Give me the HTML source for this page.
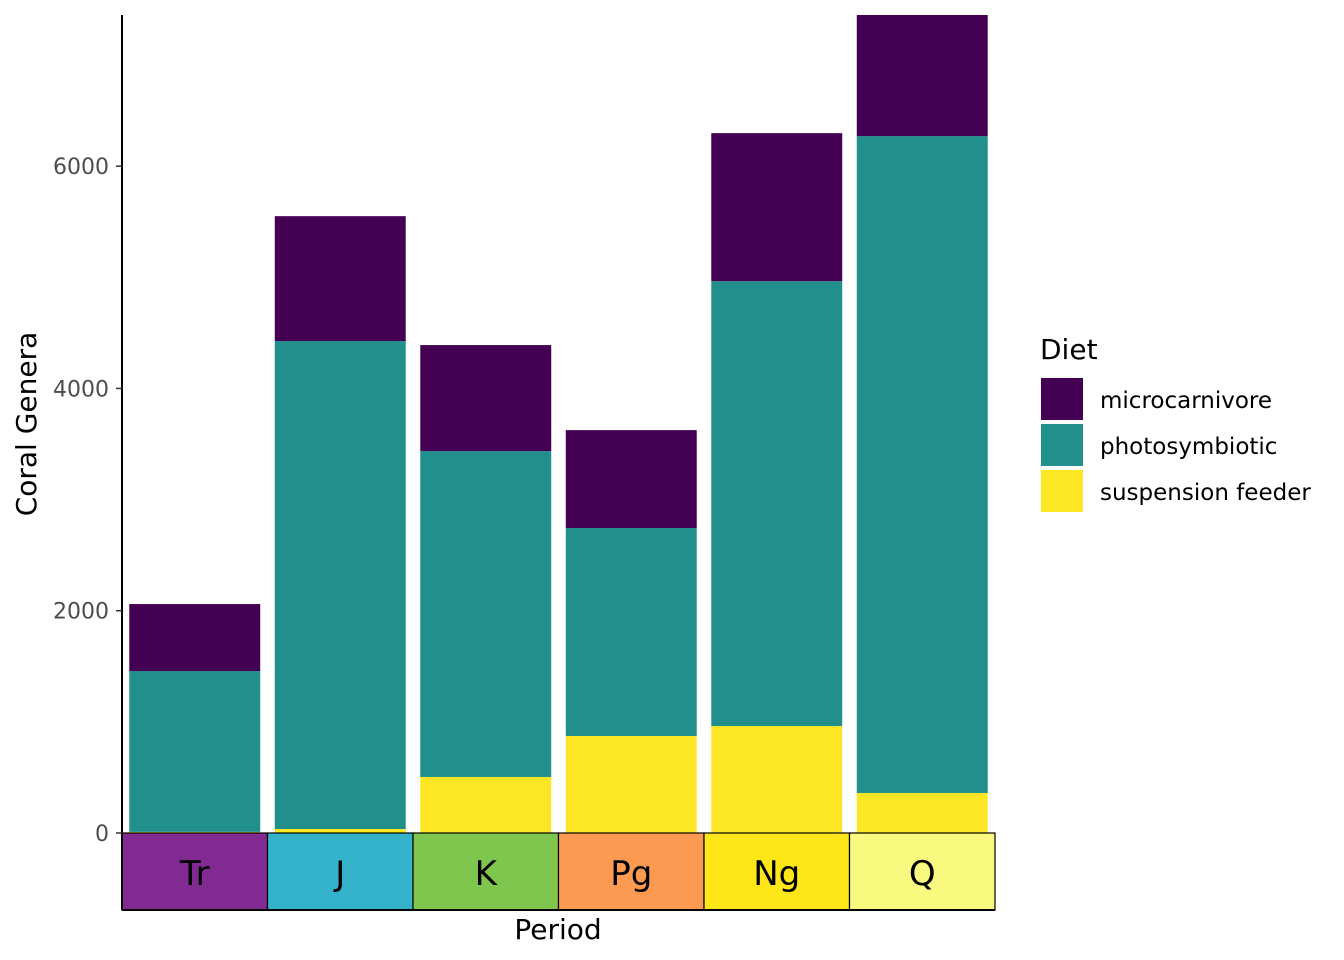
<!DOCTYPE html>
<html><head><meta charset="utf-8"><style>
body{margin:0;background:#fff}
svg{display:block;font-family:"DejaVu Sans","Liberation Sans",sans-serif}
</style></head><body>
<svg id="chart" width="1344" height="960">
<g id="bars"></g>
<g id="axes"></g>
<g id="legend"></g>
</svg>
<script>
const periods = ["Tr","J","K","Pg","Ng","Q"];
const periodColors = ["#812B92","#34B2C9","#7FC64E","#FD9A52","#FFE619","#F9F97F"];
const suspension = [10,36,504,873,962,360];
const photosymbiotic = [1447,4390,2932,1871,4003,5910];
const microcarnivore = [603,1124,954,881,1332,1090];
const yTicks = [0,2000,4000,6000];
const dietNames = ["microcarnivore","photosymbiotic","suspension feeder"];
const dietColors = ["#440154","#21908C","#FDE725"];

const NS="http://www.w3.org/2000/svg";
const x0=122,x1=995,yBase=833,yTop=15,yMax=7360;
const band=(x1-x0)/periods.length;
const y=v=>yBase-(v/yMax)*(yBase-yTop);
function mk(parent,tag,attrs,text){const e=document.createElementNS(NS,tag);for(const k in attrs)e.setAttribute(k,attrs[k]);if(text!==undefined)e.textContent=text;parent.appendChild(e);return e;}
const gb=document.getElementById('bars'),ga=document.getElementById('axes'),gl=document.getElementById('legend');
periods.forEach((p,i)=>{
  const bx=x0+i*band+band*0.05,bw=band*0.9;
  const segs=[[0,suspension[i],2,'suspension'],[suspension[i],suspension[i]+photosymbiotic[i],1,'photosymbiotic'],[suspension[i]+photosymbiotic[i],suspension[i]+photosymbiotic[i]+microcarnivore[i],0,'microcarnivore']];
  segs.forEach(s=>{
    const r=mk(gb,'rect',{x:bx,y:y(s[1]),width:bw,height:y(s[0])-y(s[1]),fill:dietColors[s[2]]});
    
    
  });
  const pb=mk(ga,'rect',{x:x0+i*band,y:yBase,width:band,height:77,fill:periodColors[i],stroke:'#000','stroke-width':1.2});
  
  
  const pt=mk(ga,'text',{x:x0+i*band+band/2,y:yBase+52,'text-anchor':'middle','font-size':34,fill:'#000'},p);
  
  
});
const yl=mk(ga,'line',{x1:x0,y1:yTop,x2:x0,y2:910,stroke:'#000','stroke-width':2});


const xl=mk(ga,'line',{x1:x0,y1:910,x2:x1,y2:910,stroke:'#000','stroke-width':2});


yTicks.forEach(t=>{
  mk(ga,'line',{x1:116,y1:y(t),x2:x0,y2:y(t),stroke:'#333','stroke-width':1.5});
  const tl=mk(ga,'text',{x:109,y:y(t)+8,'text-anchor':'end','font-size':22,fill:'#4d4d4d'},t);
  
  
});
const yt=mk(ga,'text',{x:0,y:0,transform:'translate(36,424) rotate(-90)','text-anchor':'middle','font-size':28,fill:'#000'},'Coral Genera');


const xt=mk(ga,'text',{x:558,y:939,'text-anchor':'middle','font-size':28,fill:'#000'},'Period');


const lt=mk(gl,'text',{x:1040,y:359,'font-size':28,fill:'#000'},'Diet');


dietNames.forEach((d,i)=>{
  const ky=378+i*46;
  const k=mk(gl,'rect',{x:1041,y:ky,width:42,height:42,fill:dietColors[i]});
  
  
  const t=mk(gl,'text',{x:1100,y:ky+30,'font-size':23,fill:'#000'},d);
  
  
});
</script>
</body></html>
